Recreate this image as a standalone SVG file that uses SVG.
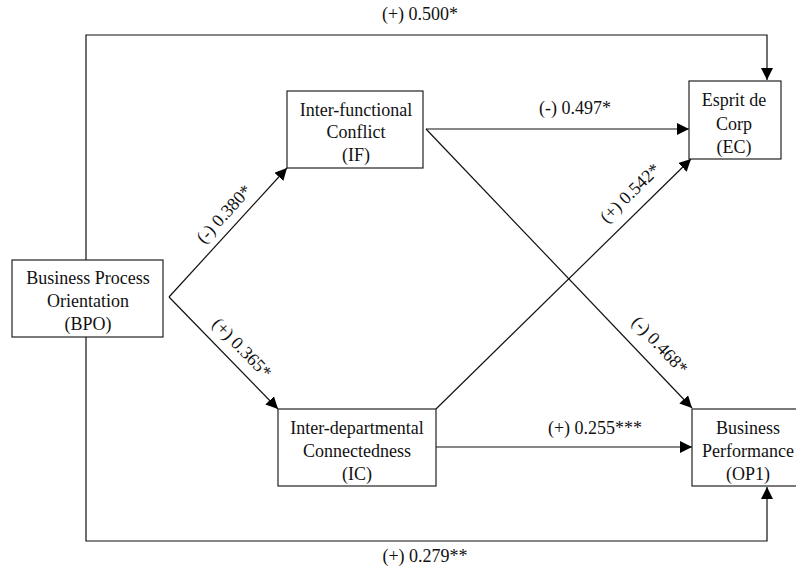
<svg xmlns="http://www.w3.org/2000/svg" width="796" height="567" viewBox="0 0 796 567">
<style>
text{font-family:"Liberation Serif","Times New Roman",serif;font-size:18px;fill:#111;text-anchor:middle}
.box{fill:#fff;stroke:#222;stroke-width:1.2}
.ln{fill:none;stroke:#111;stroke-width:1.2}
</style>
<defs>
<marker id="ah" markerUnits="userSpaceOnUse" markerWidth="13" markerHeight="12" refX="12" refY="6" orient="auto">
<path d="M0,0 L12,6 L0,12 z" fill="#000"/>
</marker>
</defs>
<rect width="796" height="567" fill="#fff"/>
<g id="connectors">
<polyline class="ln" points="86,260 86,35 767,35 767,80" marker-end="url(#ah)"/>
<polyline class="ln" points="86,337 86,541 767,541 767,487" marker-end="url(#ah)"/>
<line class="ln" x1="169" y1="297" x2="287" y2="168" marker-end="url(#ah)"/>
<line class="ln" x1="169" y1="297" x2="278" y2="409" marker-end="url(#ah)"/>
<line class="ln" x1="426" y1="129" x2="689" y2="129" marker-end="url(#ah)"/>
<line class="ln" x1="426" y1="129" x2="692" y2="408" marker-end="url(#ah)"/>
<line class="ln" x1="436" y1="409" x2="691" y2="159" marker-end="url(#ah)"/>
<line class="ln" x1="436" y1="447" x2="692" y2="447" marker-end="url(#ah)"/>
<text x="420" y="20">(+) 0.500*</text>
<text x="425" y="562">(+) 0.279**</text>
<text x="575" y="114">(-) 0.497*</text>
<text x="595" y="434">(+) 0.255***</text>
<text transform="translate(224,214) rotate(-47.5)" y="6">(-) 0.380*</text>
<text transform="translate(242,348) rotate(46)" y="6">(+) 0.365*</text>
<text transform="translate(630,193) rotate(-44.4)" y="6">(+) 0.542*</text>
<text transform="translate(660,345) rotate(46.4)" y="6">(-) 0.468*</text>
</g>
<g id="BPO">
<rect class="box" x="12" y="260" width="151" height="77"/>
<text x="88" y="284">Business Process</text>
<text x="88" y="307">Orientation</text>
<text x="88" y="330">(BPO)</text>
</g>
<g id="IF">
<rect class="box" x="287" y="91" width="136" height="77"/>
<text x="356" y="116">Inter-functional</text>
<text x="356" y="138">Conflict</text>
<text x="356" y="161">(IF)</text>
</g>
<g id="IC">
<rect class="box" x="278" y="409" width="158" height="77"/>
<text x="357" y="434">Inter-departmental</text>
<text x="357" y="457">Connectedness</text>
<text x="357" y="480">(IC)</text>
</g>
<g id="EC">
<rect class="box" x="689" y="81" width="92" height="78"/>
<text x="734" y="106">Esprit de</text>
<text x="734" y="130">Corp</text>
<text x="734" y="153">(EC)</text>
</g>
<g id="OP1">
<rect class="box" x="692" y="409" width="112" height="77"/>
<text x="748" y="434">Business</text>
<text x="748" y="457">Performance</text>
<text x="748" y="480">(OP1)</text>
</g>
</svg>
